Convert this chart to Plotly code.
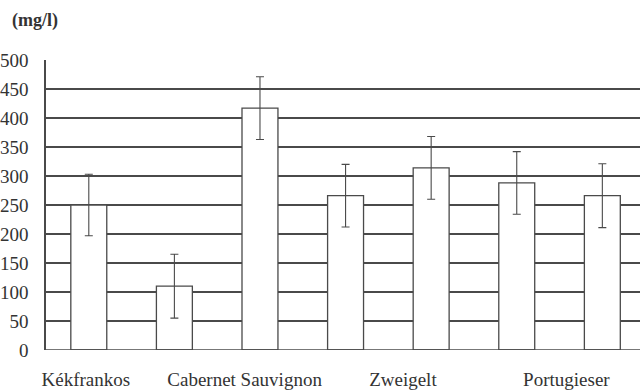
import plotly.graph_objects as go

# Mean concentration (mg/l) per sample and its standard deviation
sample_idx = [0, 1, 2, 3, 4, 5, 6]
means = [250, 110, 417, 266, 314, 288, 266]
std_dev = [53, 55, 54, 54, 54, 54, 55]

# Variety names along the horizontal axis and where they sit
variety_labels = ["Kékfrankos", "Cabernet Sauvignon", "Zweigelt", "Portugieser"]
variety_pos = [-0.035, 1.82, 3.67, 5.58]

y_ticks = [0, 50, 100, 150, 200, 250, 300, 350, 400, 450, 500]

serif = "Liberation Serif, Times New Roman, serif"
line_col = "#4a4a4a"

fig = go.Figure()
fig.add_trace(go.Bar(
    x=sample_idx,
    y=means,
    width=0.42,
    marker=dict(color="white", line=dict(color=line_col, width=1.3)),
    error_y=dict(type="data", array=std_dev, visible=True,
                 color=line_col, thickness=1.1, width=4),
    showlegend=False,
))

fig.update_layout(
    width=640, height=392,
    margin=dict(l=46, r=0, t=60, b=42),
    paper_bgcolor="white",
    plot_bgcolor="white",
    font=dict(family=serif, color="#333333", size=18),
    xaxis=dict(
        range=[-0.5, 6.44],
        tickmode="array",
        tickvals=variety_pos,
        ticktext=variety_labels,
        ticks="",
        showgrid=False,
        zeroline=False,
        showline=False,
        tickfont=dict(size=19, family=serif, color="#333333"),
        ticklabelstandoff=16,
    ),
    yaxis=dict(
        range=[0, 500],
        tickmode="array",
        tickvals=y_ticks,
        ticks="",
        showgrid=True,
        gridcolor=line_col,
        gridwidth=1.5,
        zeroline=False,
        showline=True,
        linecolor=line_col,
        linewidth=1.5,
        tickfont=dict(size=19, family=serif, color="#333333"),
        ticklabelstandoff=12,
        automargin=False,
    ),
    annotations=[dict(
        text="<b>(mg/l)</b>",
        xref="paper", yref="paper",
        x=0, y=1, xshift=-36, yshift=40,
        xanchor="left", yanchor="middle",
        showarrow=False,
        font=dict(size=18, family=serif, color="#333333"),
    )],
)

# baseline along zero
fig.add_shape(type="line", xref="paper", yref="y", x0=0, x1=1, y0=0, y1=0,
              line=dict(color=line_col, width=1.5))

fig.write_html("out.html")
